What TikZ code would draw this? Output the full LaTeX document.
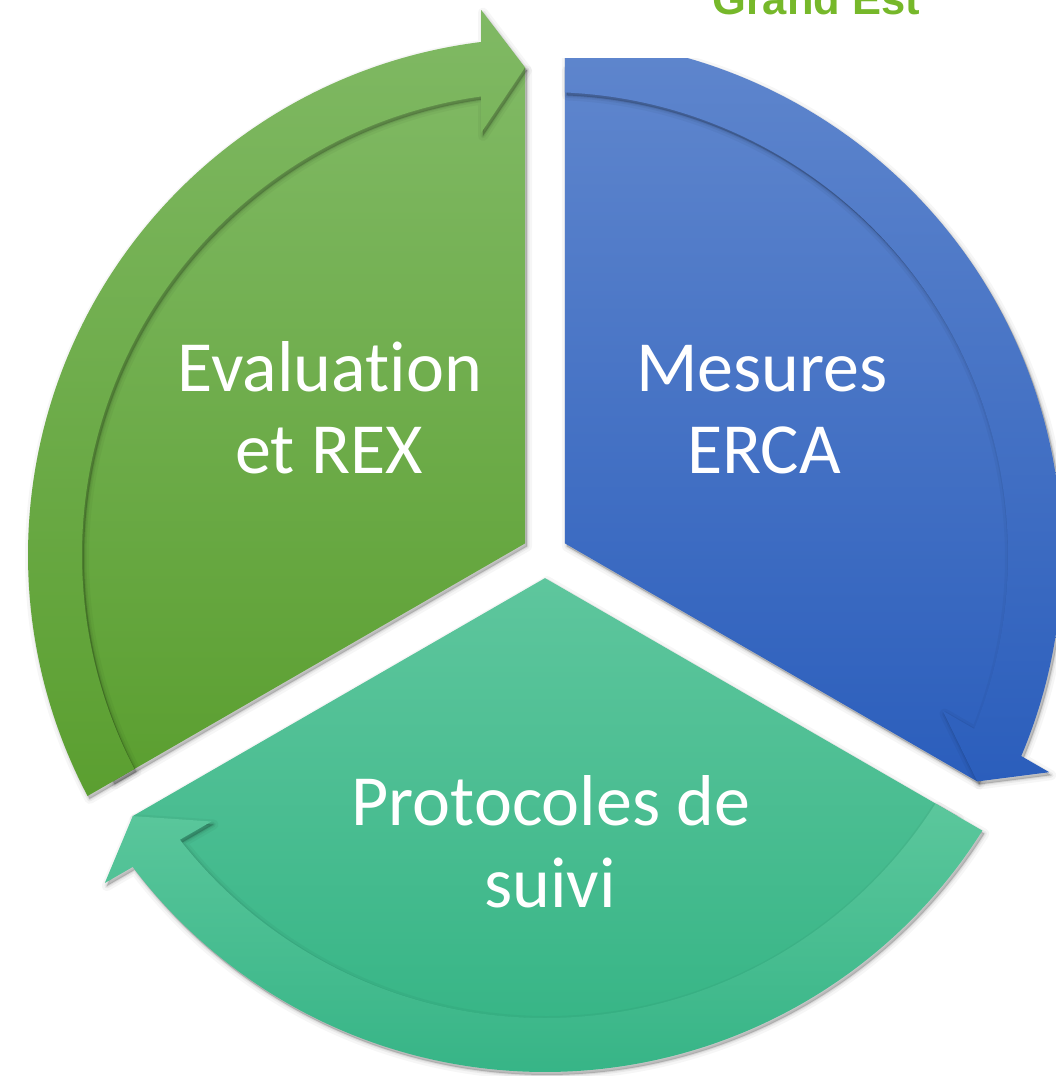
\documentclass[tikz,border=0pt]{standalone}
\usepackage{fontspec}
\setmainfont{Carlito}[RawFeature={-liga;-clig}]
\newfontfamily\gefont{Liberation Sans}
\definecolor{gTop}{HTML}{80B964}
\definecolor{gBot}{HTML}{5B9F30}
\definecolor{bTop}{HTML}{5F86CD}
\definecolor{bBot}{HTML}{2B5EBC}
\definecolor{tTop}{HTML}{5EC69D}
\definecolor{tBot}{HTML}{30B282}
\definecolor{tbTop}{HTML}{5BC79C}
\definecolor{tbBot}{HTML}{36B486}
\definecolor{geGreen}{HTML}{76B82A}
\tikzset{
  softshadow/.style={
    preaction={transform canvas={shift={(2pt,-3pt)}}, draw=black, draw opacity=0.035, line width=10pt, line join=round, fill=black, fill opacity=0.04},
    preaction={transform canvas={shift={(2pt,-3pt)}}, draw=black, draw opacity=0.05, line width=5pt, line join=round, fill=black, fill opacity=0.06},
    preaction={transform canvas={shift={(2pt,-3pt)}}, draw=black, draw opacity=0.07, line width=2pt, line join=round, fill=black, fill opacity=0.1}
  },
  lbl/.style={text=white, anchor=base, inner sep=0pt, font=\fontsize{72}{82}\selectfont}
}
% #1 destination ray angle, #2/#3 pie colours, #4/#5 band colours
\newcommand\cycseg[5]{%
  \pgfmathsetmacro\sa{#1}%
  \pgfmathsetmacro\sb{#1+120}%
  \pgfmathsetmacro\sm{#1+60}%
  \shade[softshadow, top color=#2, bottom color=#3]
    (\sm:23.09pt) -- ({\sa+2.349}:488pt)
    arc[start angle={\sa+2.349}, end angle={\sb-2.349}, radius=488pt] -- cycle;
  \shade[softshadow, top color=#4, bottom color=#5]
    ({\sb-2.217}:517pt)
    arc[start angle={\sb-2.217}, end angle={\sa+7.111}, radius=517pt]
    -- ({\sa+6.694}:549pt) -- ({\sa+2.349}:488pt) -- ({\sa+8.620}:427pt)
    -- ({\sa+7.945}:463pt)
    arc[start angle={\sa+7.945}, end angle={\sb-2.476}, radius=463pt] -- cycle;
}
\begin{document}
\begin{tikzpicture}[x=1pt,y=1pt]
\useasboundingbox (-545,-521) rectangle (510,555);
\fill[white] (-545,-521) rectangle (510,555);
\cycseg{90}{gTop}{gBot}{gTop}{gBot}
\cycseg{-30}{bTop}{bBot}{bTop}{bBot}
\cycseg{210}{tTop}{tBot}{tbTop}{tbBot}
\fill[white] (5,497) rectangle (510,560);
\node[anchor=base west, inner sep=0pt, text=geGreen, font=\gefont\bfseries\fontsize{43.5}{50}\selectfont] (ge) at (167,540) {Grand Est};
\node[lbl] (ev1) at (-215,163) {Evaluation};
\node[lbl] (ev2) at (-216,81) {et REX};
\node[lbl] (me1) at (217,163) {Mesures};
\node[lbl] (me2) at (219,81) {ERCA};
\node[lbl] (pr1) at (6,-270) {Protocoles de};
\node[lbl] (pr2) at (5,-352) {suivi};
\end{tikzpicture}
\end{document}
